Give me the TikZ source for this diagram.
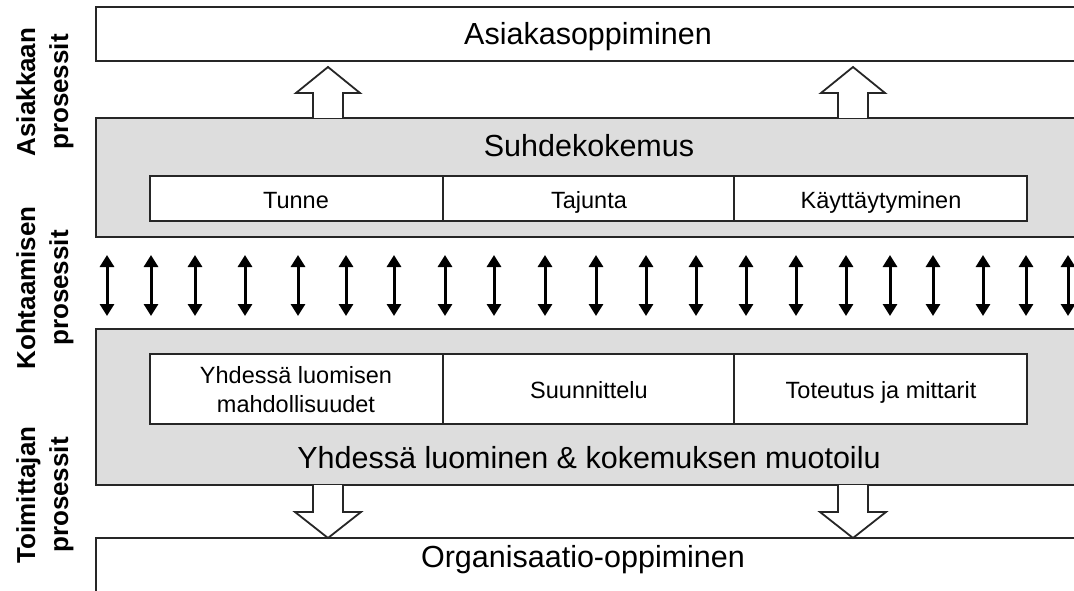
\documentclass[tikz,border=0pt]{standalone}
\usepackage{fontspec}
\setmainfont{Liberation Sans}
\usetikzlibrary{arrows.meta}

\definecolor{laatikko}{HTML}{DDDDDD}

\begin{document}
\begin{tikzpicture}[
    x=1pt, y=-1pt, % pikselit, y alaspäin
    reuna/.style={draw=black!85, line width=1.8pt}, % laatikoiden reunat
    valkoinen/.style={reuna, fill=white},
    harmaa/.style={reuna, fill=laatikko},
    iso/.style={font=\fontsize{30.5}{35}\selectfont, anchor=base, inner sep=0pt},
    pieni/.style={font=\fontsize{23.5}{29}\selectfont, anchor=base, inner sep=0pt, align=center},
    sivu/.style={font=\fontsize{26}{33}\selectfont\bfseries, rotate=90, align=center, inner sep=0pt},
    vuoro/.style={line width=3pt, {Triangle[length=12pt,width=14pt]}-{Triangle[length=12pt,width=14pt]}}, % kaksisuuntaiset nuolet
    lohko/.style={draw=black!85, line width=1.8pt, fill=white, line join=miter}, % leveät nuolet
  ]

  % Koko
  \useasboundingbox (0,0) rectangle (1074,591);
  \clip (0,0) rectangle (1074,591);

  % Solujen rajat
  \def\xa{150}
  \def\xb{443}
  \def\xc{734}
  \def\xd{1027}

  % Laatikot
  \draw[valkoinen] (96,7) rectangle (1100,61);
  \draw[harmaa] (96,118) rectangle (1100,237);
  \draw[harmaa] (96,329) rectangle (1100,485);
  \draw[valkoinen] (96,538) rectangle (1100,620);

  % Solut
  \draw[valkoinen] (\xa,176) rectangle (\xd,221);
  \draw[reuna] (\xb,176) -- (\xb,221) (\xc,176) -- (\xc,221);
  \draw[valkoinen] (\xa,354) rectangle (\xd,424);
  \draw[reuna] (\xb,354) -- (\xb,424) (\xc,354) -- (\xc,424);

  % Tekstit
  \node[iso] (asiakas) at (588,45) {Asiakasoppiminen};
  \node[iso] (suhde) at (589,157) {Suhdekokemus};
  \node[pieni] (tunne) at (296,208) {Tunne};
  \node[pieni] (tajunta) at (589,208) {Tajunta};
  \node[pieni] (kaytos) at (881,208) {Käyttäytyminen};
  \node[pieni] (mahd) at (296,412) {Yhdessä luomisen\\mahdollisuudet};
  \node[pieni] (suunn) at (589,398) {Suunnittelu};
  \node[pieni] (toteutus) at (881,398) {Toteutus ja mittarit};
  \node[iso] (luominen) at (589,468) {Yhdessä luominen \& kokemuksen muotoilu};
  \node[iso] (org) at (583,567) {Organisaatio-oppiminen};

  % Sivuotsikot
  \node[sivu] (asiakkaan) at (45,92) {Asiakkaan\\prosessit};
  \node[sivu] (kohtaamisen) at (45,288) {Kohtaamisen\\prosessit};
  \node[sivu] (toimittajan) at (45,495) {Toimittajan\\prosessit};

  % Ylös- ja alasnuolet
  \foreach \m in {328, 853} {
    \draw[lohko] (\m-15,118) -- (\m-15,93) -- (\m-32,93) -- (\m,67)
      -- (\m+32,93) -- (\m+15,93) -- (\m+15,118);
    \draw[lohko] (\m-15,485) -- (\m-15,512) -- (\m-33,512) -- (\m,538)
      -- (\m+33,512) -- (\m+15,512) -- (\m+15,485);
  }

  % Kohtaaminen
  \foreach \x in {107,151,195,245,298,346,394,445,494,545,596,646,696,746,796,846,890,933,983,1026,1068}
    \draw[vuoro] (\x,255) -- (\x,316);

\end{tikzpicture}
\end{document}
